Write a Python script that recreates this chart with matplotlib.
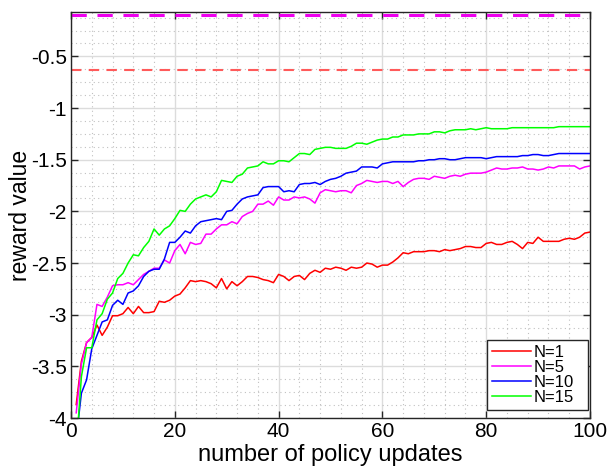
import numpy as np
import matplotlib
matplotlib.use('Agg')
import matplotlib.pyplot as plt
from matplotlib.ticker import MultipleLocator, FuncFormatter

# dados
updates = np.arange(1, 101)

r_n1 = [-3.87, -3.45, -3.27, -3.22, -3.10, -3.20, -3.12, -3.01, -3.01, -2.99,
        -2.93, -2.99, -2.92, -2.98, -2.98, -2.97, -2.87, -2.88, -2.86, -2.82,
        -2.80, -2.74, -2.67, -2.68, -2.67, -2.68, -2.70, -2.74, -2.65, -2.75,
        -2.68, -2.72, -2.68, -2.63, -2.63, -2.64, -2.66, -2.67, -2.69, -2.61,
        -2.63, -2.67, -2.63, -2.62, -2.66, -2.60, -2.57, -2.59, -2.55, -2.56,
        -2.54, -2.55, -2.57, -2.54, -2.55, -2.54, -2.50, -2.51, -2.54, -2.52,
        -2.52, -2.49, -2.45, -2.40, -2.41, -2.39, -2.39, -2.39, -2.38, -2.38,
        -2.39, -2.37, -2.38, -2.37, -2.36, -2.34, -2.34, -2.35, -2.35, -2.31,
        -2.30, -2.32, -2.32, -2.30, -2.29, -2.32, -2.36, -2.30, -2.31, -2.25,
        -2.29, -2.29, -2.29, -2.29, -2.27, -2.26, -2.27, -2.25, -2.21, -2.20]

r_n5 = [-3.95, -3.48, -3.27, -3.22, -2.90, -2.92, -2.83, -2.72, -2.71, -2.71,
        -2.69, -2.71, -2.66, -2.61, -2.58, -2.55, -2.55, -2.47, -2.50, -2.38,
        -2.32, -2.41, -2.30, -2.32, -2.31, -2.22, -2.22, -2.17, -2.13, -2.13,
        -2.10, -2.12, -2.05, -2.02, -2.00, -1.93, -1.93, -1.90, -1.94, -1.86,
        -1.89, -1.89, -1.86, -1.87, -1.86, -1.88, -1.92, -1.82, -1.79, -1.80,
        -1.81, -1.80, -1.80, -1.82, -1.75, -1.73, -1.70, -1.71, -1.72, -1.71,
        -1.71, -1.73, -1.71, -1.76, -1.72, -1.69, -1.68, -1.68, -1.69, -1.66,
        -1.67, -1.68, -1.66, -1.65, -1.66, -1.64, -1.63, -1.63, -1.63, -1.62,
        -1.60, -1.58, -1.59, -1.59, -1.58, -1.58, -1.57, -1.59, -1.59, -1.60,
        -1.59, -1.57, -1.58, -1.56, -1.56, -1.56, -1.56, -1.59, -1.57, -1.56]

r_n10 = [-4.20, -3.76, -3.63, -3.33, -3.20, -3.07, -3.05, -2.91, -2.86, -2.90,
         -2.79, -2.77, -2.72, -2.63, -2.58, -2.56, -2.56, -2.46, -2.30, -2.30,
         -2.25, -2.19, -2.21, -2.14, -2.10, -2.09, -2.08, -2.07, -2.08, -2.00,
         -1.99, -1.93, -1.88, -1.86, -1.85, -1.84, -1.77, -1.76, -1.76, -1.76,
         -1.81, -1.80, -1.81, -1.74, -1.73, -1.73, -1.72, -1.74, -1.71, -1.69,
         -1.68, -1.66, -1.63, -1.62, -1.61, -1.57, -1.57, -1.57, -1.58, -1.54,
         -1.53, -1.52, -1.52, -1.52, -1.52, -1.52, -1.51, -1.51, -1.50, -1.50,
         -1.49, -1.49, -1.50, -1.50, -1.49, -1.48, -1.48, -1.48, -1.48, -1.49,
         -1.48, -1.47, -1.47, -1.47, -1.47, -1.47, -1.46, -1.46, -1.45, -1.45,
         -1.46, -1.46, -1.45, -1.44, -1.44, -1.44, -1.44, -1.44, -1.44, -1.44]

r_n15 = [-4.30, -3.60, -3.32, -3.32, -3.05, -2.99, -2.85, -2.79, -2.65, -2.60,
         -2.50, -2.42, -2.43, -2.35, -2.29, -2.17, -2.23, -2.17, -2.14, -2.07,
         -1.99, -2.00, -1.93, -1.88, -1.86, -1.84, -1.86, -1.81, -1.70, -1.71,
         -1.72, -1.66, -1.64, -1.58, -1.57, -1.56, -1.52, -1.54, -1.54, -1.51,
         -1.51, -1.52, -1.48, -1.44, -1.44, -1.45, -1.40, -1.39, -1.38, -1.38,
         -1.39, -1.39, -1.39, -1.37, -1.34, -1.34, -1.35, -1.33, -1.31, -1.30,
         -1.30, -1.28, -1.28, -1.26, -1.26, -1.26, -1.25, -1.25, -1.25, -1.23,
         -1.23, -1.24, -1.22, -1.21, -1.21, -1.21, -1.20, -1.21, -1.20, -1.19,
         -1.20, -1.20, -1.20, -1.20, -1.19, -1.19, -1.19, -1.19, -1.19, -1.19,
         -1.19, -1.19, -1.19, -1.18, -1.18, -1.18, -1.18, -1.18, -1.18, -1.18]

# referencias (linhas tracejadas)
ref_n1 = -0.636
ref_n5 = -0.10

labels = ['N=1', 'N=5', 'N=10', 'N=15']
cores = ['#ff0000', '#ff00ff', '#0000ff', '#00ff00']

plt.rcParams['font.family'] = ['Liberation Sans', 'DejaVu Sans']

fig = plt.figure(figsize=(6.08, 4.70), dpi=100)
ax = fig.add_axes([0.1168, 0.1106, 0.8536, 0.8639])

for serie, lab, c in zip([r_n1, r_n5, r_n10, r_n15], labels, cores):
    ax.plot(updates, serie, color=c, lw=1.1, label=lab)

ax.axhline(ref_n1, color='#ff5a5a', lw=1.5, ls=(0, (5, 3.5)))
ax.axhline(ref_n5, color='#ee00ee', lw=2.2, ls=(0, (5, 3.5)))

ax.set_xlim(0, 100)
ax.set_ylim(-4, -0.07)
ax.xaxis.set_major_locator(MultipleLocator(20))
ax.xaxis.set_minor_locator(MultipleLocator(4))
ax.yaxis.set_major_locator(MultipleLocator(0.5))
ax.yaxis.set_minor_locator(MultipleLocator(0.125))
ax.yaxis.set_major_formatter(FuncFormatter(lambda v, p: ('%g' % v)))

ax.grid(True, which='major', color='#dcdcdc', lw=1.0, ls='-')
ax.grid(True, which='minor', color='#c0c0c0', lw=0.8, ls=(0, (1, 3)))
ax.set_axisbelow(True)

ax.tick_params(which='major', direction='in', length=5, width=1, pad=3,
               top=True, right=True, labelsize=15, color='#262626')
ax.tick_params(which='minor', length=0)
for s in ax.spines.values():
    s.set_color('#262626')
    s.set_linewidth(1.0)

ax.set_xlabel('number of policy updates', fontsize=17, labelpad=2)
ax.set_ylabel('reward value', fontsize=16.5, labelpad=-1)

# legenda no canto inferior direito, largura fixa como no original
leg = ax.legend(loc='lower left', bbox_to_anchor=(0.8015, 0.0197, 0.1946, 0.17),
                mode='expand', fontsize=12,
                handlelength=2.35, handletextpad=0.15, labelspacing=0.0,
                borderpad=0.3, borderaxespad=0.0, fancybox=False, framealpha=1)
leg.get_frame().set_edgecolor('#262626')
leg.get_frame().set_linewidth(1.0)

plt.savefig('out.png', dpi=100)
